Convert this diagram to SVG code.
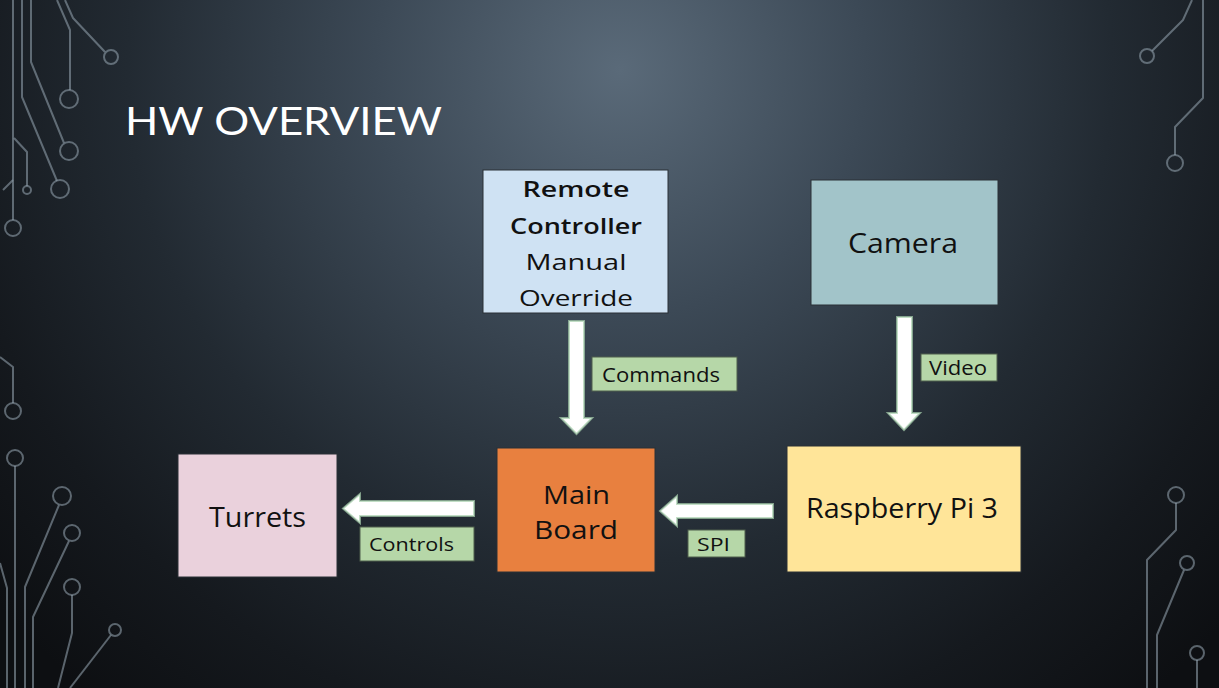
<svg xmlns="http://www.w3.org/2000/svg" width="1219" height="688" viewBox="0 0 1219 688">
<defs>
<radialGradient id="bg" gradientUnits="userSpaceOnUse" cx="620" cy="70" r="820">
<stop offset="0" stop-color="#5a6a79"/>
<stop offset="0.3" stop-color="#3c4956"/>
<stop offset="0.6" stop-color="#222a32"/>
<stop offset="0.82" stop-color="#15191e"/>
<stop offset="1" stop-color="#0d0f12"/>
</radialGradient>
</defs>
<style>
.circ{fill:none;stroke:#8e9ca8;stroke-width:2;stroke-opacity:0.6;stroke-linejoin:round}
.node{stroke:#2a3036;stroke-width:1}
.t{font-family:"Open Sans","Liberation Sans",sans-serif;fill:#111;text-anchor:middle}
.lbl{fill:#b6d7a8;stroke:#4f5e4c;stroke-width:1}
.arrow{fill:#ffffff;stroke:#a8d0ae;stroke-width:2;stroke-opacity:0.7;stroke-linejoin:miter}
</style>
<rect x="0" y="0" width="1219" height="688" fill="url(#bg)"/>

<g id="decor">
<path class="circ" d="M13,0 V220"/><circle class="circ" cx="13" cy="228" r="8"/>
<path class="circ" d="M14,138 L27,152 V186"/><circle class="circ" cx="27" cy="190" r="4"/>
<path class="circ" d="M3,190 L13,180"/>
<path class="circ" d="M22,0 V97 L57,181"/><circle class="circ" cx="60" cy="189" r="9"/>
<path class="circ" d="M31,0 V62 L64,143"/><circle class="circ" cx="69" cy="151" r="9"/>
<path class="circ" d="M57,0 L70,30 V90"/><circle class="circ" cx="69" cy="99" r="9"/>
<path class="circ" d="M65,0 L73,18 L105,52"/><circle class="circ" cx="111" cy="57" r="7"/>

<path class="circ" d="M0,357 L13,367 V403"/><circle class="circ" cx="13" cy="411" r="8"/>
<circle class="circ" cx="15" cy="458" r="8"/><path class="circ" d="M15,466 V688"/>
<path class="circ" d="M0,563 L7,588 V688"/>
<circle class="circ" cx="62" cy="496" r="9"/><path class="circ" d="M59,505 L25,587 V688"/>
<circle class="circ" cx="72" cy="533" r="8"/><path class="circ" d="M69,541 L33,617 V688"/>
<circle class="circ" cx="72" cy="587" r="8"/><path class="circ" d="M72,595 V633 L58,688"/>
<circle class="circ" cx="115" cy="630" r="6"/><path class="circ" d="M111,635 L70,688"/>

<path class="circ" d="M1192,0 L1183,20 L1152,51"/><circle class="circ" cx="1147" cy="56" r="7"/>
<path class="circ" d="M1203,0 V98 L1175,127 V155"/><circle class="circ" cx="1175" cy="163" r="8"/>
<circle class="circ" cx="1176" cy="495" r="8"/><path class="circ" d="M1176,503 V530 L1147,560 V688"/>
<circle class="circ" cx="1187" cy="563" r="7"/><path class="circ" d="M1184,570 L1157,635 V688"/>
<circle class="circ" cx="1197" cy="653" r="7"/><path class="circ" d="M1197,660 V688"/>
</g>

<text id="title" x="125" y="135" font-family="Lato,'Liberation Sans',sans-serif" font-weight="400" font-size="39" fill="#ffffff" textLength="317" lengthAdjust="spacingAndGlyphs">HW OVERVIEW</text>

<g id="connectors">
<path class="arrow" d="M569,321 H584 V418 H592 L576.5,434 L561,418 H569 Z"/>
<path class="arrow" d="M897,317 H912 V413 H920 L904,430 L888,413 H897 Z"/>
<path class="arrow" d="M773,504 V518 H677 V526 L660,511 L677,496 V504 Z"/>
<path class="arrow" d="M474,501 V516 H360 V523 L343,508.5 L360,494 V501 Z"/>
<g id="label-commands"><rect class="lbl" x="592" y="357" width="145" height="34"/><text class="t" x="661" y="382" font-size="20" textLength="118" lengthAdjust="spacingAndGlyphs">Commands</text></g>
<g id="label-video"><rect class="lbl" x="921" y="354" width="76" height="27"/><text class="t" x="958" y="375" font-size="20" textLength="58" lengthAdjust="spacingAndGlyphs">Video</text></g>
<g id="label-spi"><rect class="lbl" x="688" y="530" width="57" height="27"/><text class="t" x="713.5" y="551" font-size="18" textLength="33" lengthAdjust="spacingAndGlyphs">SPI</text></g>
<g id="label-controls"><rect class="lbl" x="360" y="527" width="114" height="34"/><text class="t" x="411.5" y="551" font-size="18" textLength="85" lengthAdjust="spacingAndGlyphs">Controls</text></g>
</g>

<g id="remote">
<rect class="node" x="483" y="170" width="185" height="143" fill="#cfe2f3"/>
<text class="t" x="576" y="197" font-size="22" font-weight="600" textLength="107" lengthAdjust="spacingAndGlyphs">Remote</text>
<text class="t" x="576" y="234" font-size="22" font-weight="600" textLength="132" lengthAdjust="spacingAndGlyphs">Controller</text>
<text class="t" x="576" y="270" font-size="22" textLength="101" lengthAdjust="spacingAndGlyphs">Manual</text>
<text class="t" x="576" y="306" font-size="22" textLength="114" lengthAdjust="spacingAndGlyphs">Override</text>
</g>

<g id="camera">
<rect class="node" x="811" y="180" width="187" height="125" fill="#a2c4c9"/>
<text class="t" x="903" y="253" font-size="27" textLength="110" lengthAdjust="spacingAndGlyphs">Camera</text>
</g>

<g id="raspberry">
<rect class="node" x="787" y="446" width="234" height="126" fill="#ffe599"/>
<text class="t" x="902" y="518" font-size="27" textLength="192" lengthAdjust="spacingAndGlyphs">Raspberry Pi 3</text>
</g>

<g id="mainboard">
<rect class="node" x="497" y="448" width="158" height="124" fill="#e8803f"/>
<text class="t" x="576.5" y="504" font-size="26" textLength="67" lengthAdjust="spacingAndGlyphs">Main</text>
<text class="t" x="576" y="539" font-size="26" textLength="84" lengthAdjust="spacingAndGlyphs">Board</text>
</g>

<g id="turrets">
<rect class="node" x="178" y="454" width="159" height="123" fill="#ead1dc"/>
<text class="t" x="257.5" y="527" font-size="28" textLength="97" lengthAdjust="spacingAndGlyphs">Turrets</text>
</g>
</svg>
